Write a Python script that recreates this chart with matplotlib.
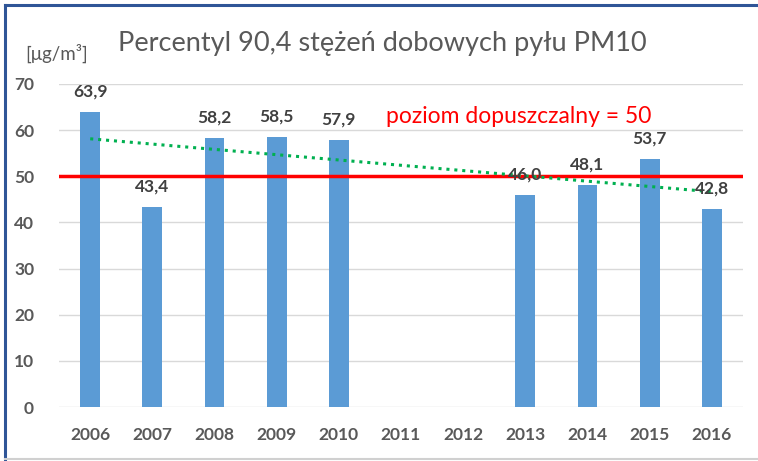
import numpy as np
import matplotlib.pyplot as plt
from matplotlib.lines import Line2D

# Data
years = ['2006', '2007', '2008', '2009', '2010', '2011', '2012', '2013', '2014', '2015', '2016']
values = [63.9, 43.4, 58.2, 58.5, 57.9, np.nan, np.nan, 46.0, 48.1, 53.7, 42.8]
limit_value = 50
title = 'Percentyl 90,4 stężeń dobowych pyłu PM10'
unit_label = '[μg/m³]'
limit_label = 'poziom dopuszczalny = 50'

BAR_COLOR = '#5B9BD5'
GRAY_TEXT = '#595959'
LABEL_TEXT = '#404040'


def main():
    plt.rcParams['font.family'] = ['Lato', 'DejaVu Sans']
    fig = plt.figure(figsize=(7.58, 4.61), dpi=100)
    ax = fig.add_axes([0.078, 0.117, 0.902, 0.701])

    x = np.arange(len(years))
    vals = np.array(values, dtype=float)
    ax.bar(x, vals, width=0.32, color=BAR_COLOR, zorder=2)

    # data labels above bars
    for xi, v in zip(x, vals):
        if np.isnan(v):
            continue
        ax.annotate(f'{v:.1f}'.replace('.', ','), (xi, v), xytext=(0, 9),
                    textcoords='offset points', ha='center', va='bottom',
                    fontsize=12.5, fontweight='bold', color=LABEL_TEXT, zorder=4)

    # limit line
    ax.axhline(limit_value, color='#FF0000', linewidth=2.5, zorder=3)
    ax.text(6.9, 62.9, limit_label, color='#FF0000', fontsize=16.5,
            ha='center', va='center')

    # linear trend (excel style) over available points
    mask = ~np.isnan(vals)
    coef = np.polyfit(x[mask], vals[mask], 1)
    ax.plot(x, np.polyval(coef, x), color='#00B050', linestyle=(0, (1, 1.6)),
            linewidth=2.2, zorder=3)

    ax.set_xlim(-0.5, len(years) - 0.5)
    ax.set_ylim(0, 70)
    ax.set_yticks(range(0, 71, 10))
    ax.set_xticks(x)
    ax.set_xticklabels(years)
    ax.tick_params(axis='both', length=0, colors=GRAY_TEXT, labelsize=12.5)
    ax.tick_params(axis='x', pad=14)
    ax.tick_params(axis='y', pad=18)
    for lbl in ax.get_xticklabels() + ax.get_yticklabels():
        lbl.set_fontweight('bold')
    ax.grid(axis='y', color='#D9D9D9', linewidth=1, zorder=0)
    for s in ax.spines.values():
        s.set_visible(False)

    fig.text(0.505, 0.905, title, ha='center', va='center', fontsize=19.5, color=GRAY_TEXT)
    fig.text(0.075, 0.885, unit_label, ha='center', va='center', fontsize=13.5, color=GRAY_TEXT)

    # chart frame
    fig.add_artist(Line2D([0.006, 1.0], [0.989, 0.989], color='#2F5597', linewidth=2.2))
    fig.add_artist(Line2D([0.006, 0.006], [0.004, 0.989], color='#2F5597', linewidth=2.2))
    fig.add_artist(Line2D([0.006, 1.0], [0.004, 0.004], color='#D0D0D0', linewidth=1.5))

    fig.savefig('out.png', dpi=100)
    plt.close(fig)


if __name__ == "__main__":
    main()
